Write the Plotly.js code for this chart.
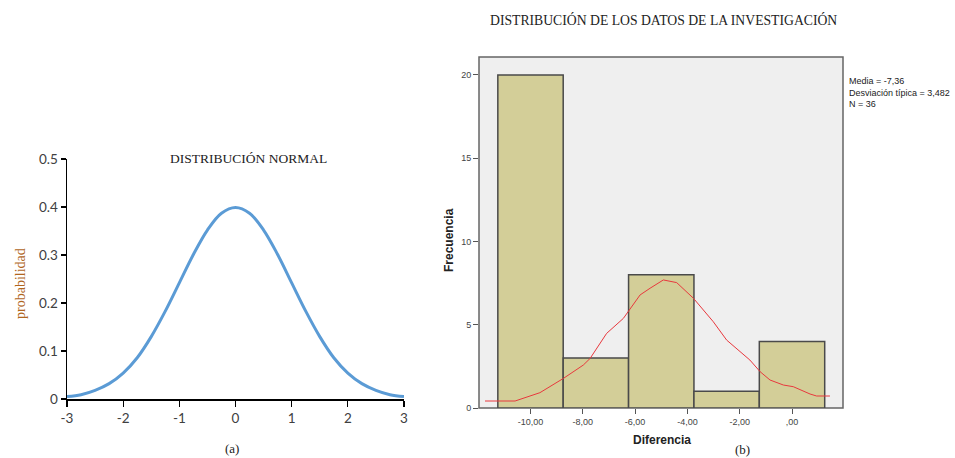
<!DOCTYPE html>
<html><head><meta charset="utf-8">
<script src="https://cdn.plot.ly/plotly-3.0.1.min.js"></script>
<style>html,body{margin:0;padding:0;background:#fff}#chart{width:955px;height:458px}</style>
</head><body><div id="chart"></div>
<script>
// Panel (a): normal curve
const normX = [-3, -2.75, -2.5, -2.25, -2, -1.75, -1.5, -1.25, -1, -0.75, -0.5, -0.25, 0, 0.25, 0.5, 0.75, 1, 1.25, 1.5, 1.75, 2, 2.25, 2.5, 2.75, 3];
const normY = [0.005, 0.009, 0.018, 0.032, 0.054, 0.086, 0.130, 0.183, 0.242, 0.301, 0.352, 0.387, 0.399, 0.387, 0.352, 0.301, 0.242, 0.183, 0.130, 0.086, 0.054, 0.032, 0.018, 0.009, 0.005];
const normTickVals = [-3, -2, -1, 0, 1, 2, 3];
const normTickText = ['-3', '-2', '-1', '0', '1', '2', '3'];
const probTickVals = [0, 0.1, 0.2, 0.3, 0.4, 0.5];
const probTickText = ['0', '0.1', '0.2', '0.3', '0.4', '0.5'];

// Panel (b): histogram
const binCenters = [-10, -7.5, -5, -2.5, 0];
const binCounts = [20, 3, 8, 1, 4];
const binWidth = 2.5;
const xTickVals = [-10, -8, -6, -4, -2, 0];
const xTickText = ['-10,00', '-8,00', '-6,00', '-4,00', '-2,00', ',00'];
const freqTickVals = [0, 5, 10, 15, 20];
const curveX = [-11.74, -10.59, -10.02, -9.64, -8.74, -7.98, -7.72, -7.09, -6.45, -5.81, -5.43, -4.92, -4.41, -3.77, -3.01, -2.50, -1.61, -1.22, -0.84, -0.33, 0.05, 0.69, 0.94, 1.45];
const curveY = [0.42, 0.42, 0.72, 0.92, 1.78, 2.58, 2.98, 4.48, 5.38, 6.79, 7.19, 7.69, 7.53, 6.59, 5.18, 4.08, 2.88, 2.18, 1.68, 1.38, 1.28, 0.84, 0.72, 0.72];
const statsText = 'Media = -7,36<br>Desviación típica = 3,482<br>N = 36';

const W = 955, H = 458;
const fx = p => p / W, fy = p => 1 - p / H;

const traces = [
  {x: normX, y: normY, type: 'scatter', mode: 'lines', xaxis: 'x', yaxis: 'y',
   line: {color: '#5B9BD5', width: 3, shape: 'spline', smoothing: 1}, hoverinfo: 'skip'},
  {x: binCenters, y: binCounts, type: 'bar', width: binWidth, xaxis: 'x2', yaxis: 'y2',
   marker: {color: '#D3CE98', line: {color: '#4a4a4a', width: 1.5}}, hoverinfo: 'skip'},
  {x: curveX, y: curveY, type: 'scatter', mode: 'lines', xaxis: 'x2', yaxis: 'y2',
   line: {color: '#E8383D', width: 1}, hoverinfo: 'skip'}
];

const tickFontA = {family: 'Lato, "Open Sans", sans-serif', size: 13.5, color: '#404040'};
const tickFontB = {family: '"Liberation Sans", Arial, sans-serif', size: 9, color: '#444'};
const serif = '"Liberation Serif", "Times New Roman", serif';
const sans = '"Liberation Sans", Arial, sans-serif';

function ann(text, x, y, font, extra) {
  return Object.assign({text: text, xref: 'paper', yref: 'paper', x: fx(x), y: fy(y),
    xanchor: 'center', yanchor: 'middle', showarrow: false, font: font}, extra || {});
}

const layout = {
  width: W, height: H, margin: {l: 0, r: 0, t: 0, b: 0},
  paper_bgcolor: '#fff', plot_bgcolor: 'rgba(0,0,0,0)', showlegend: false,
  xaxis: {domain: [fx(67), fx(404)], range: [-3, 3], tickvals: normTickVals, ticktext: normTickText,
    ticks: 'outside', ticklen: 6, tickcolor: '#000', tickwidth: 1.2, showline: true, linecolor: '#000', linewidth: 1.5,
    showgrid: false, zeroline: false, tickfont: tickFontA, anchor: 'y', fixedrange: true},
  yaxis: {domain: [fy(399), fy(159)], range: [0, 0.5], tickvals: probTickVals, ticktext: probTickText,
    ticks: 'outside', ticklen: 5, tickcolor: '#000', tickwidth: 1.2, showline: true, linecolor: '#000', linewidth: 1.5,
    showgrid: false, zeroline: false, tickfont: tickFontA, anchor: 'x', fixedrange: true},
  xaxis2: {domain: [fx(479), fx(843)], range: [-11.97, 1.95], tickvals: xTickVals, ticktext: xTickText,
    ticks: 'outside', ticklen: 5, tickcolor: '#555', showline: false,
    showgrid: false, zeroline: false, tickfont: tickFontB, anchor: 'y2', fixedrange: true},
  yaxis2: {domain: [fy(408), fy(57)], range: [0, 21.08], tickvals: freqTickVals,
    ticks: 'outside', ticklen: 5, tickcolor: '#555', showline: false,
    showgrid: false, zeroline: false, tickfont: tickFontB, anchor: 'x2', fixedrange: true},
  shapes: [
    {type: 'rect', xref: 'x2 domain', yref: 'y2 domain', x0: 0, x1: 1, y0: 0, y1: 1,
     fillcolor: '#EFEFEF', line: {color: '#666', width: 1.5}, layer: 'below'}
  ],
  annotations: [
    ann('DISTRIBUCIÓN NORMAL', 248, 158, {family: serif, size: 13.5, color: '#222'}),
    ann('probabilidad', 20, 284, {family: serif, size: 14, color: '#B0661E'}, {textangle: -90}),
    ann('(a)', 232, 448, {family: serif, size: 13, color: '#222'}),
    ann('DISTRIBUCIÓN DE LOS DATOS DE LA INVESTIGACIÓN', 663, 20, {family: serif, size: 13.7, color: '#222'}),
    ann(statsText, 847, 74, {family: sans, size: 9, color: '#222'}, {xanchor: 'left', yanchor: 'top', align: 'left'}),
    ann('<b>Frecuencia</b>', 449, 240, {family: sans, size: 12, color: '#222'}, {textangle: -90}),
    ann('<b>Diferencia</b>', 662, 440, {family: sans, size: 12, color: '#222'}),
    ann('(b)', 742, 449, {family: serif, size: 13, color: '#222'})
  ]
};

Plotly.newPlot('chart', traces, layout, {displayModeBar: false, staticPlot: true});
</script>
</body></html>
